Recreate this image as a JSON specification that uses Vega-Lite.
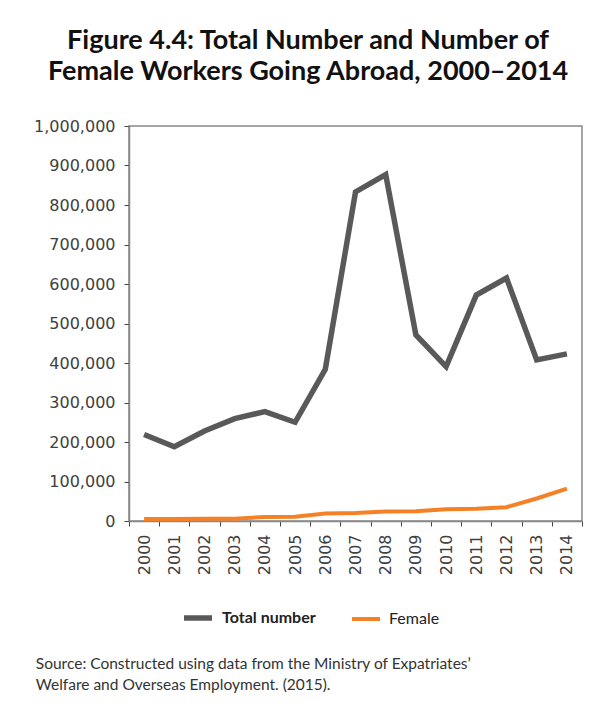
{
  "$schema": "https://vega.github.io/schema/vega-lite/v6.json",
  "background": "white",
  "padding": {"left": 32, "top": 26, "right": 15, "bottom": 8},
  "data": {
    "values": [
      {"year": "2000", "series": "Total number", "workers": 219000},
      {"year": "2001", "series": "Total number", "workers": 188000},
      {"year": "2002", "series": "Total number", "workers": 228000},
      {"year": "2003", "series": "Total number", "workers": 259000},
      {"year": "2004", "series": "Total number", "workers": 277000},
      {"year": "2005", "series": "Total number", "workers": 250000},
      {"year": "2006", "series": "Total number", "workers": 384000},
      {"year": "2007", "series": "Total number", "workers": 833000},
      {"year": "2008", "series": "Total number", "workers": 877000},
      {"year": "2009", "series": "Total number", "workers": 471000},
      {"year": "2010", "series": "Total number", "workers": 391000},
      {"year": "2011", "series": "Total number", "workers": 572000},
      {"year": "2012", "series": "Total number", "workers": 615000},
      {"year": "2013", "series": "Total number", "workers": 408000},
      {"year": "2014", "series": "Total number", "workers": 423000},
      {"year": "2000", "series": "Female", "workers": 5000},
      {"year": "2001", "series": "Female", "workers": 5000},
      {"year": "2002", "series": "Female", "workers": 5500},
      {"year": "2003", "series": "Female", "workers": 6000},
      {"year": "2004", "series": "Female", "workers": 10000},
      {"year": "2005", "series": "Female", "workers": 11000},
      {"year": "2006", "series": "Female", "workers": 19000},
      {"year": "2007", "series": "Female", "workers": 20000},
      {"year": "2008", "series": "Female", "workers": 24000},
      {"year": "2009", "series": "Female", "workers": 24500},
      {"year": "2010", "series": "Female", "workers": 30000},
      {"year": "2011", "series": "Female", "workers": 31000},
      {"year": "2012", "series": "Female", "workers": 35000},
      {"year": "2013", "series": "Female", "workers": 57000},
      {"year": "2014", "series": "Female", "workers": 82000}
    ]
  },
  "title": {
    "text": ["Source: Constructed using data from the Ministry of Expatriates’", "Welfare and Overseas Employment. (2015)."],
    "orient": "bottom",
    "anchor": "start",
    "frame": "bounds",
    "font": "Lato",
    "fontSize": 15.5,
    "fontWeight": "normal",
    "color": "#333333",
    "lineHeight": 20.5,
    "offset": 28,
    "dx": 3
  },
  "vconcat": [
    {
      "width": 453,
      "height": 395,
      "title": {
        "text": ["Figure 4.4: Total Number and Number of", "Female Workers Going Abroad, 2000–2014"],
        "anchor": "middle",
        "frame": "bounds",
        "font": "Lato",
        "fontSize": 27,
        "fontWeight": "bold",
        "color": "#111111",
        "lineHeight": 31,
        "offset": 32
      },
      "mark": {"type": "line", "interpolate": "linear", "strokeCap": "butt", "strokeJoin": "miter"},
      "encoding": {
        "x": {
          "field": "year",
          "type": "ordinal",
          "bandPosition": 0.5,
          "scale": {"type": "band", "paddingInner": 0, "paddingOuter": 0},
          "axis": {
            "title": null,
            "labelAngle": -90,
            "tickBand": "extent",
            "labelFont": "DejaVu Sans",
            "labelFontSize": 16,
            "labelColor": "#404040",
            "labelPadding": 8,
            "tickSize": 5,
            "tickColor": "#444444",
            "domainColor": "#888888",
            "domainWidth": 1.5
          }
        },
        "y": {
          "field": "workers",
          "type": "quantitative",
          "scale": {"domain": [0, 1000000], "nice": false},
          "axis": {
            "title": null,
            "values": [0, 100000, 200000, 300000, 400000, 500000, 600000, 700000, 800000, 900000, 1000000],
            "format": ",d",
            "grid": false,
            "labelFont": "DejaVu Sans",
            "labelFontSize": 16,
            "labelColor": "#404040",
            "labelPadding": 9,
            "tickSize": 5,
            "tickColor": "#444444",
            "domainColor": "#888888",
            "domainWidth": 1.5
          }
        },
        "color": {
          "field": "series",
          "type": "nominal",
          "scale": {"domain": ["Total number", "Female"], "range": ["#595959", "#F58025"]},
          "legend": {
            "title": null,
            "orient": "none",
            "legendX": 52,
            "legendY": 475,
            "direction": "horizontal",
            "symbolType": "stroke",
            "symbolSize": 784,
            "symbolStrokeWidth": 5,
            "labelFont": "Lato",
            "labelFontSize": 16,
            "labelColor": "#222222",
            "labelOffset": 7,
            "columnPadding": 28,
            "encode": {
              "labels": {
                "update": {
                  "fontWeight": {"signal": "datum.label === 'Total number' ? 'bold' : 'normal'"}
                }
              }
            }
          }
        },
        "strokeWidth": {
          "field": "series",
          "type": "nominal",
          "scale": {"domain": ["Total number", "Female"], "range": [5.5, 4]},
          "legend": null
        }
      }
    }
  ],
  "config": {
    "view": {"stroke": "#888888", "strokeWidth": 1.5},
    "axis": {"grid": false}
  }
}
